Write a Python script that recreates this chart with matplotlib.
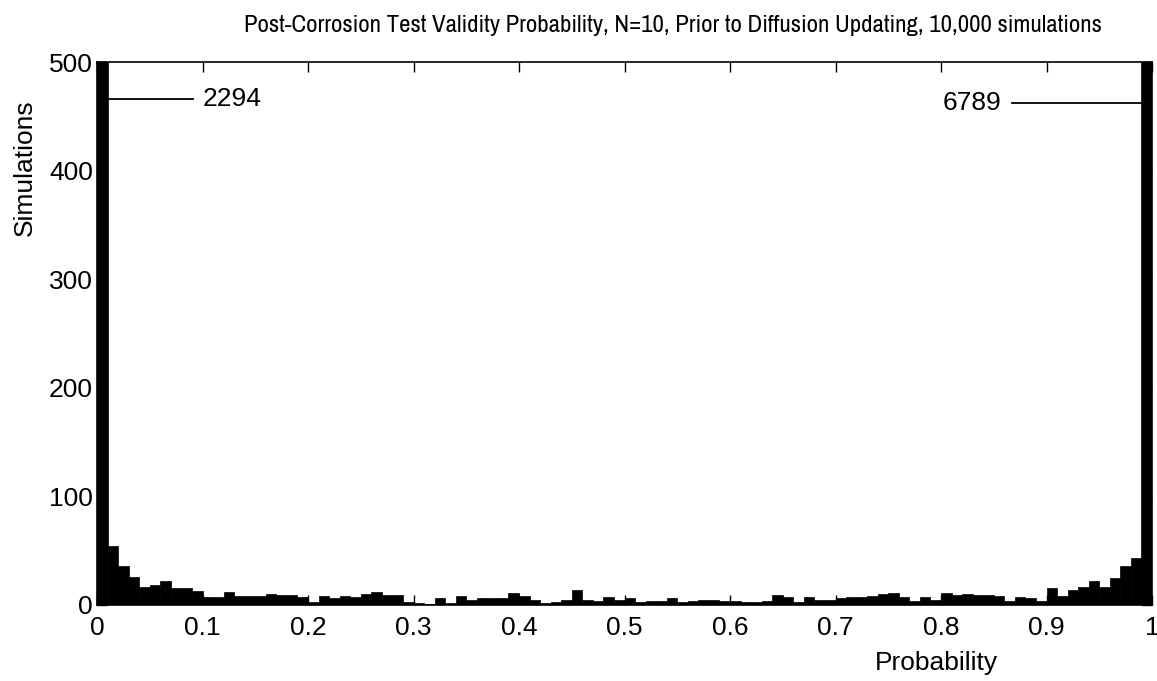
import numpy as np
import matplotlib
matplotlib.use("Agg")
import matplotlib.pyplot as plt
from matplotlib import font_manager

# Histogram counts, 100 bins over [0, 1]
counts = [2294, 54, 36, 26, 17, 18, 22, 16, 16, 13,
          7, 7, 12, 8, 8, 8, 10, 9, 9, 7,
          3, 8, 6, 8, 7, 10, 12, 9, 9, 3,
          2, 1, 6, 2, 8, 5, 6, 6, 6, 11,
          8, 5, 2, 3, 5, 14, 5, 4, 7, 5,
          6, 3, 4, 4, 6, 3, 4, 5, 5, 4,
          4, 3, 3, 4, 9, 7, 3, 7, 5, 5,
          6, 7, 7, 8, 10, 11, 7, 4, 7, 5,
          11, 9, 10, 9, 9, 8, 4, 7, 6, 4,
          16, 8, 14, 17, 22, 17, 25, 36, 43, 6789]
bin_lo, bin_hi, n_bins = 0.0, 1.0, 100
xticks = [0, 0.1, 0.2, 0.3, 0.4, 0.5, 0.6, 0.7, 0.8, 0.9, 1]
xticklabels = ["0", "0.1", "0.2", "0.3", "0.4", "0.5", "0.6", "0.7", "0.8", "0.9", "1"]
yticks = [0, 100, 200, 300, 400, 500]
title = "Post-Corrosion Test Validity Probability, N=10, Prior to Diffusion Updating, 10,000 simulations"
left_label = "2294"
right_label = "6789"

plt.rcParams['font.family'] = ['Liberation Sans', 'DejaVu Sans']
FS = 19

fig = plt.figure(figsize=(11.57, 6.81), dpi=100)
ax = fig.add_axes([97/1157, 1-605/681, (1152-97)/1157, (605-62)/681])

edges = np.linspace(bin_lo, bin_hi, n_bins + 1)
ax.bar(edges[:-1], counts, width=np.diff(edges), align='edge',
       color='black', edgecolor='black', linewidth=0.5)

ax.set_xlim(0, 1)
ax.set_ylim(0, 500)
ax.set_xticks(xticks)
ax.set_xticklabels(xticklabels)
ax.set_yticks(yticks)
ax.tick_params(direction='in', top=True, right=True, length=7, width=1,
               labelsize=FS)
ax.tick_params(axis='x', pad=8)
ax.tick_params(axis='y', pad=3)
for s in ax.spines.values():
    s.set_linewidth(1.2)

# annotations for clipped bars
ax.plot([0.01, 0.091], [466, 466], color='black', lw=1.3)
ax.text(0.1005, 466, left_label, fontsize=FS, va='center', ha='left')
ax.plot([0.867, 0.99], [462, 462], color='black', lw=1.3)
ax.text(0.857, 462, right_label, fontsize=FS, va='center', ha='right')

ax.set_ylabel("Simulations", fontsize=FS, labelpad=2)
ax.yaxis.set_label_coords(-0.057, 0.805)
ax.text(0.796, -0.084, "Probability", transform=ax.transAxes, fontsize=FS,
        ha='center', va='top')

# title: narrowest available font, fitted to the reference width
names = sorted({f.name for f in font_manager.fontManager.ttflist})
narrow = [n for n in names if ('Condensed' in n or 'Narrow' in n or 'Compressed' in n)]
cond = [f.name for f in font_manager.fontManager.ttflist
        if str(f.stretch) in ('condensed', 'semi-condensed', 'extra-condensed',
                              'ultra-condensed', '300', '400', '200', '100')]
if narrow:
    tfam, tstretch = narrow[0], 'normal'
elif cond:
    tfam, tstretch = cond[0], 'condensed'
else:
    tfam, tstretch = 'Liberation Sans', 'normal'
t = fig.text(0.582, 0.962, title, fontsize=20, ha='center', va='center',
             family=[tfam, 'DejaVu Sans'], fontstretch=tstretch)
fig.canvas.draw()
w = t.get_window_extent(fig.canvas.get_renderer()).width
t.set_fontsize(20 * 857 / w)

fig.savefig("out.png", dpi=100)
